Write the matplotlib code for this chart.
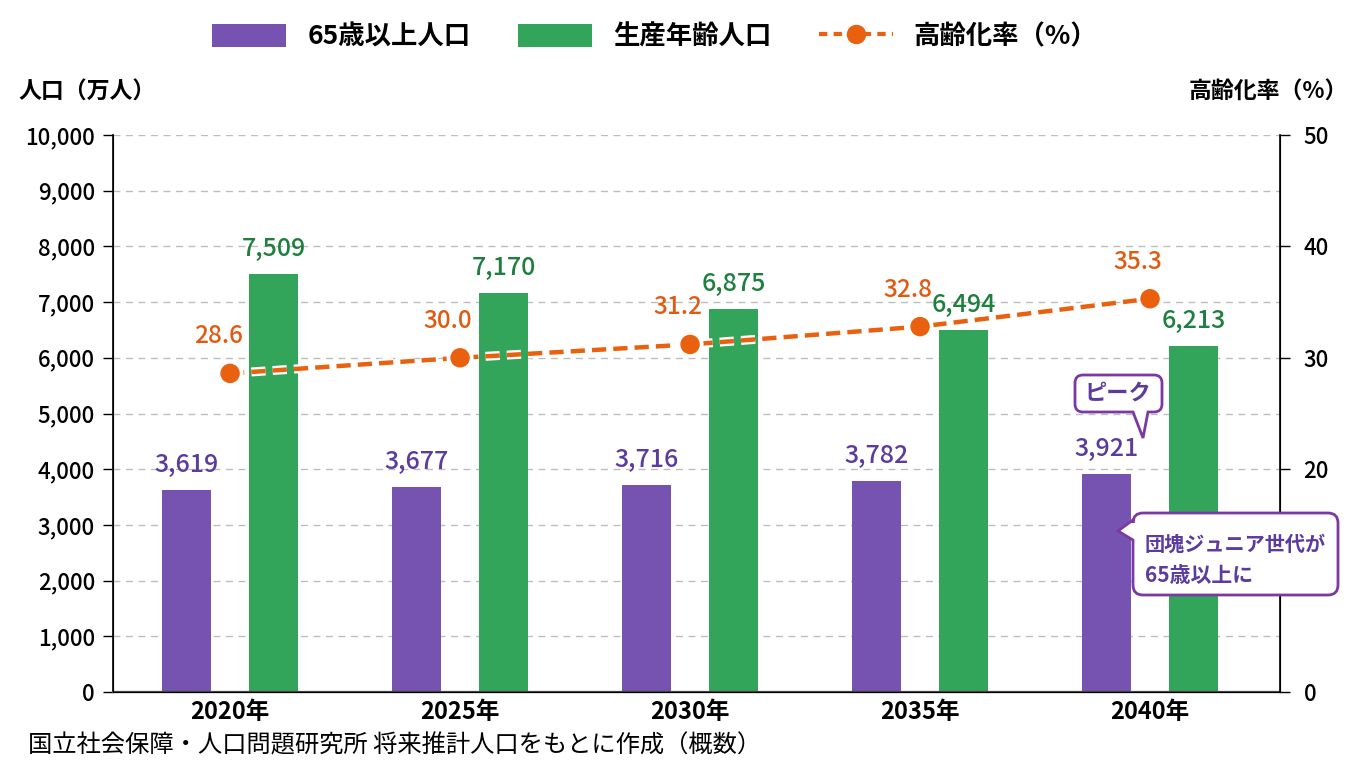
import matplotlib
matplotlib.use("Agg")
import matplotlib.pyplot as plt
import matplotlib.patheffects as pe
from matplotlib.path import Path
from matplotlib.patches import PathPatch, Patch
from matplotlib.lines import Line2D
import numpy as np

plt.rcParams['font.family'] = ['Noto Sans CJK JP', 'DejaVu Sans']

# ---- data ----
years = ["2020年", "2025年", "2030年", "2035年", "2040年"]
elderly = [3619, 3677, 3716, 3782, 3921]          # 65歳以上人口 (万人)
working = [7509, 7170, 6875, 6494, 6213]          # 生産年齢人口 (万人)
aging_rate = [28.6, 30.0, 31.2, 32.8, 35.3]       # 高齢化率 (%)
left_ticks = [0, 1000, 2000, 3000, 4000, 5000, 6000, 7000, 8000, 9000, 10000]
right_ticks = [0, 10, 20, 30, 40, 50]

PURPLE = "#7652b1"
GREEN = "#33a55b"
ORANGE = "#e9600f"
PURPLE_TXT = "#5b3b9d"
GREEN_TXT = "#1f7f3e"
ORANGE_TXT = "#e05a12"
BOX_EDGE = "#7b3aa3"

W, H = 1360, 768
fig = plt.figure(figsize=(W / 100, H / 100), dpi=100)
ax = fig.add_axes([113 / W, 1 - 692 / H, (1280 - 113) / W, (692 - 135) / H])
ax2 = ax.twinx()

x = np.arange(len(years))
bw = 0.215
off = 0.19

ax.bar(x - off, elderly, bw, color=PURPLE, zorder=2)
ax.bar(x + off, working, bw, color=GREEN, zorder=2)

for xi, v in zip(x, elderly):
    ax.annotate(f"{v:,}", (xi - off, v), xytext=(0, 12), textcoords="offset pixels",
                ha="center", va="bottom", fontsize=18, color=PURPLE_TXT, zorder=5,
                fontweight="medium")
for xi, v in zip(x, working):
    ax.annotate(f"{v:,}", (xi + off, v), xytext=(0, 12), textcoords="offset pixels",
                ha="center", va="bottom", fontsize=18, color=GREEN_TXT, zorder=5,
                fontweight="medium")

ax.set_xlim(-0.509, 4.565)
ax.set_ylim(0, 10000)
ax.set_yticks(left_ticks)
ax.set_yticklabels([f"{t:,}" for t in left_ticks], fontsize=16, fontweight="medium")
ax.set_xticks(x)
ax.set_xticklabels(years, fontsize=17, fontweight="bold")
ax.tick_params(axis="x", length=0, pad=6)
ax.tick_params(axis="y", length=7, width=1, direction="out", pad=6)
ax.grid(axis="y", color="#bdbdbd", linestyle=(0, (5, 4)), linewidth=1, zorder=0)
ax.set_axisbelow(True)

ax.spines["top"].set_visible(False)
ax2.spines["top"].set_visible(False)
ax.spines["left"].set_linewidth(1.2)
ax.spines["bottom"].set_linewidth(1.6)
ax.spines["bottom"].set_color("#444444")
ax2.spines["right"].set_linewidth(1.2)

ax2.set_ylim(0, 50)
ax2.set_yticks(right_ticks)
ax2.set_yticklabels([str(t) for t in right_ticks], fontsize=16, fontweight="medium")
ax2.tick_params(axis="y", length=7, width=1, direction="out", pad=10)

ax2.plot(x, aging_rate, color=ORANGE, linestyle=(0, (3.2, 1.6)), linewidth=3.2,
         marker="o", markersize=13, zorder=4,
         path_effects=[pe.Stroke(linewidth=6.5, foreground="white"), pe.Normal()])
for xi, v in zip(x, aging_rate):
    ax2.annotate(f"{v:.1f}", (xi, v), xytext=(-12, 24), textcoords="offset pixels",
                 ha="center", va="bottom", fontsize=17.5, color=ORANGE_TXT, zorder=6,
                 fontweight="medium")

# axis titles
fig.text(18 / W, 1 - 92 / H, "人口（万人）", fontsize=16.5, fontweight="bold", va="center", ha="left")
fig.text(1348 / W, 1 - 92 / H, "高齢化率（%）", fontsize=16.5, fontweight="bold", va="center", ha="right")

# legend
handles = [Patch(facecolor=PURPLE), Patch(facecolor=GREEN),
           Line2D([], [], color=ORANGE, linestyle=(0, (2, 1.5)), linewidth=3, marker="o", markersize=13)]
labels = ["65歳以上人口", "生産年齢人口", "高齢化率（%）"]
fig.legend(handles, labels, loc="center", bbox_to_anchor=(655 / W, 1 - 37 / H), ncol=3,
           frameon=False, handlelength=2.8, handleheight=1.0,
           columnspacing=1.8, handletextpad=0.8, prop={"weight": "bold", "size": 19})

# source
fig.text(28 / W, 1 - 745 / H, "国立社会保障・人口問題研究所 将来推計人口をもとに作成（概数）",
         fontsize=17.5, va="center", ha="left")


# callouts
def px(xp, yp):
    return (xp / W, 1 - yp / H)


def callout(x0, y0, x1, y1, r, side, n0, n1, tip):
    verts, codes = [], []

    def mv(p):
        verts.append(px(*p)); codes.append(Path.MOVETO)

    def ln(p):
        verts.append(px(*p)); codes.append(Path.LINETO)

    def cv(c, p):
        verts.append(px(*c)); codes.append(Path.CURVE3)
        verts.append(px(*p)); codes.append(Path.CURVE3)

    mv((x0 + r, y0))
    ln((x1 - r, y0))
    cv((x1, y0), (x1, y0 + r))
    ln((x1, y1 - r))
    cv((x1, y1), (x1 - r, y1))
    if side == "bottom":
        ln((n1, y1)); ln(tip); ln((n0, y1))
    ln((x0 + r, y1))
    cv((x0, y1), (x0, y1 - r))
    if side == "left":
        ln((x0, n1)); ln(tip); ln((x0, n0))
    ln((x0, y0 + r))
    cv((x0, y0), (x0 + r, y0))
    verts.append(px(x0 + r, y0)); codes.append(Path.CLOSEPOLY)
    p = PathPatch(Path(verts, codes), facecolor="white", edgecolor=BOX_EDGE,
                  linewidth=2, transform=fig.transFigure, zorder=10)
    fig.patches.append(p)


callout(1075, 375, 1162, 412, 8, "bottom", 1133, 1148, (1143, 438))
fig.text(*px(1118, 393), "ピーク", fontsize=16, color=PURPLE_TXT, ha="center", va="center",
         fontweight="bold", zorder=11)
callout(1133, 513, 1338, 595, 10, "left", 520, 540, (1118, 531))
fig.text(*px(1145, 544), "団塊ジュニア世代が", fontsize=14.5, color=PURPLE_TXT, ha="left", va="center",
         fontweight="bold", zorder=11)
fig.text(*px(1145, 575), "65歳以上に", fontsize=15, color=PURPLE_TXT, ha="left", va="center",
         fontweight="bold", zorder=11)

fig.savefig("out.png", dpi=100, facecolor="white")
